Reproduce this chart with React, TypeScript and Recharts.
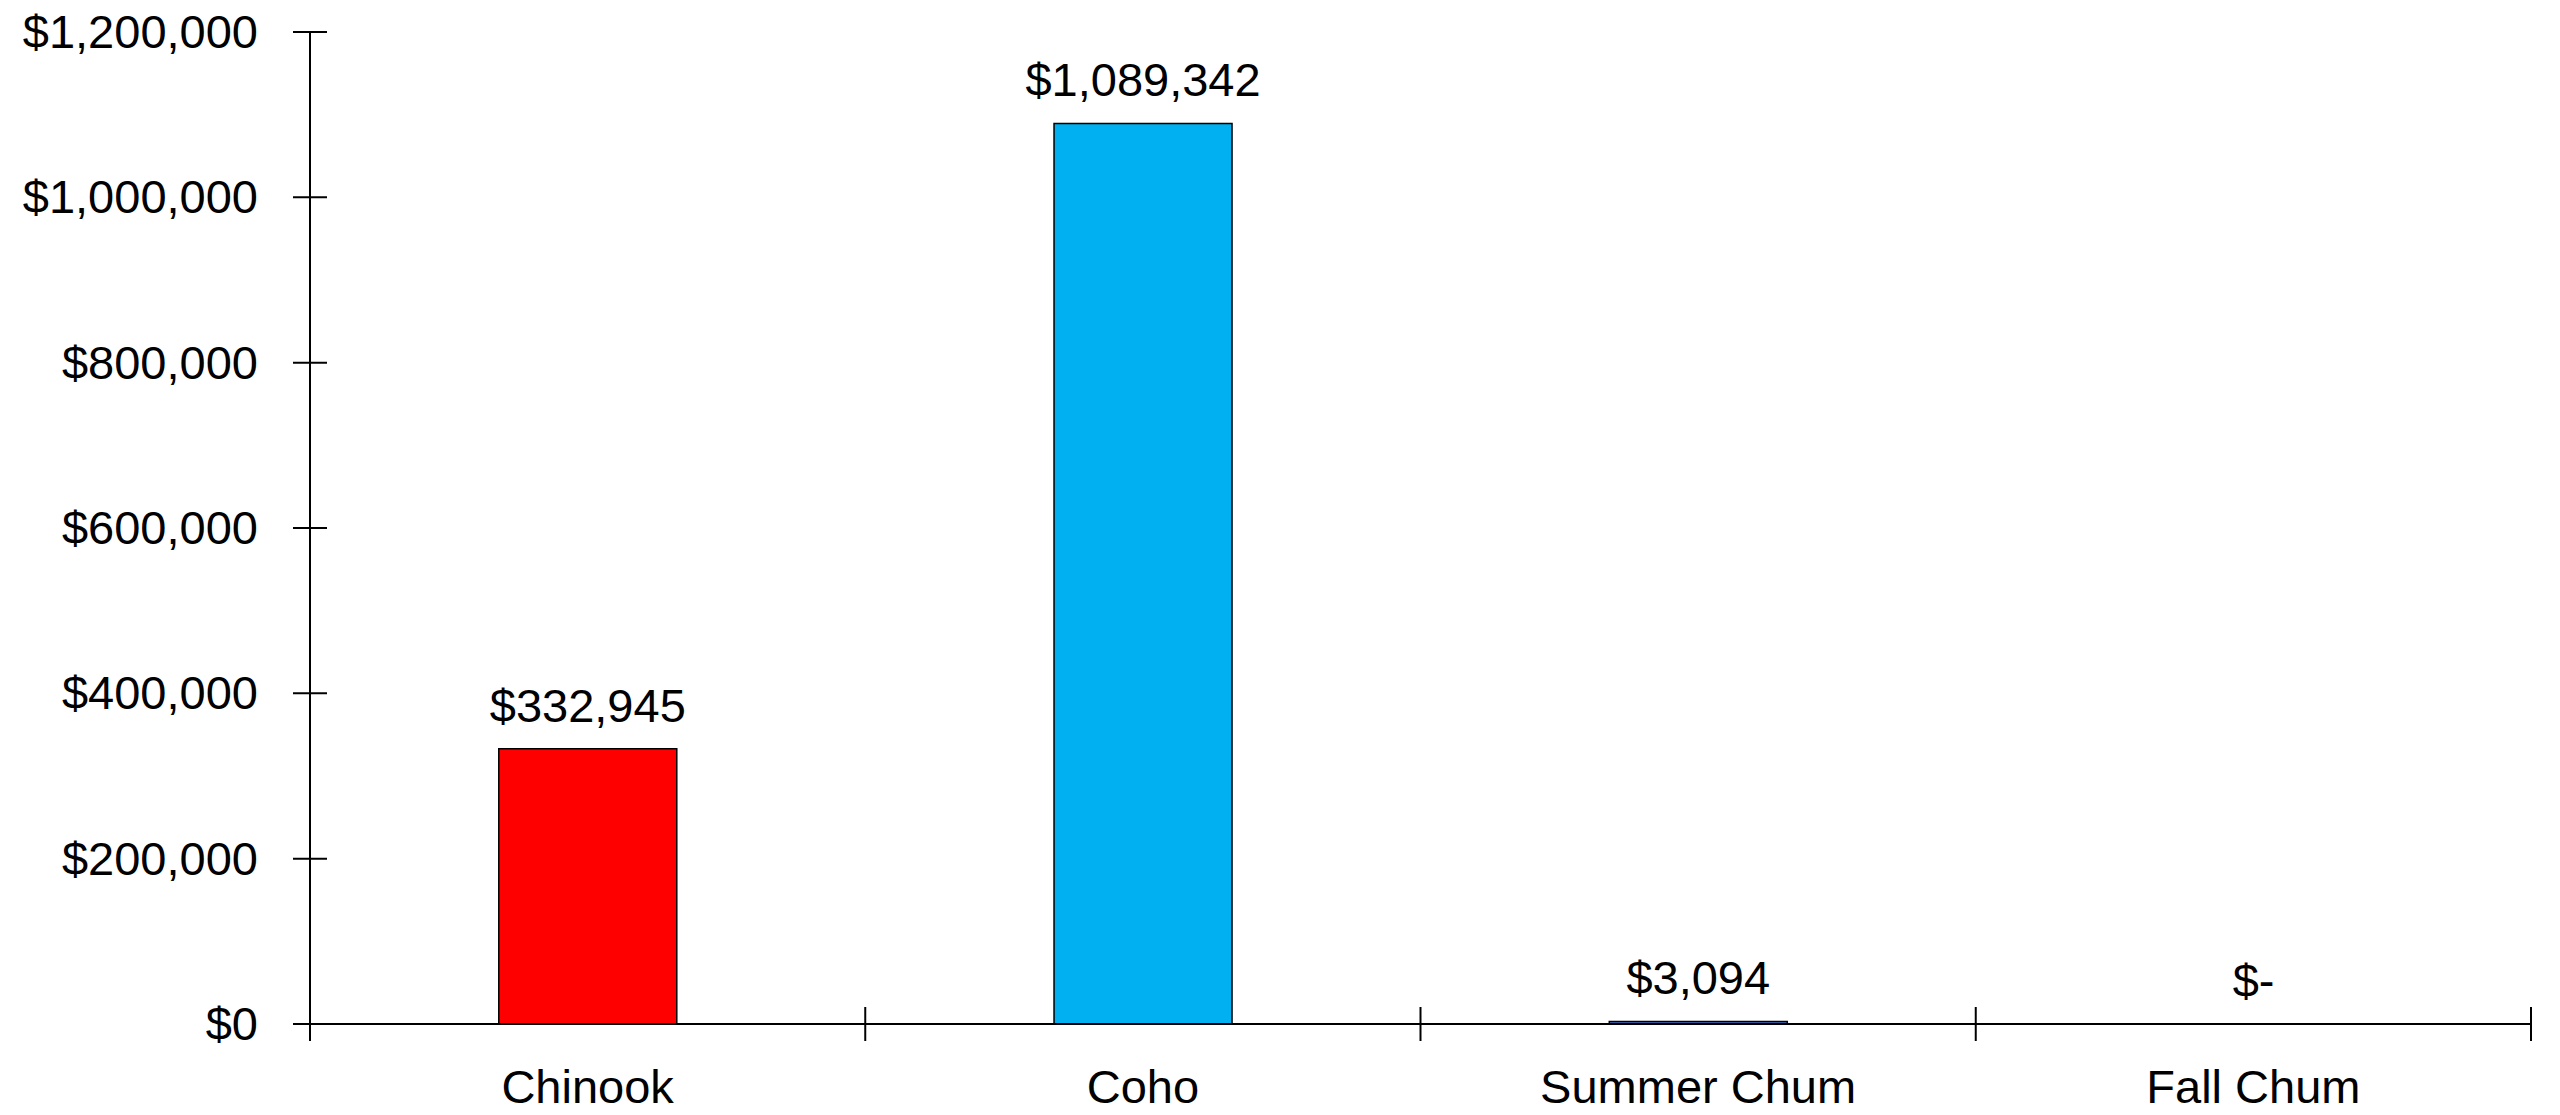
import React from 'react';
import { BarChart, Bar, XAxis, YAxis, Cell, LabelList } from 'recharts';

const species = ['Chinook', 'Coho', 'Summer Chum', 'Fall Chum'];
const revenue = [332945, 1089342, 3094, 0];
const barColors = ['#FF0000', '#00B0F0', '#4472C4', '#A5A5A5'];
const yTicks = [0, 200000, 400000, 600000, 800000, 1000000, 1200000];

const data = species.map((name, i) => ({ name, value: revenue[i] }));

const FONT = "'Liberation Sans', Arial, sans-serif";
const FONT_SIZE = 47;
const TICK_HALF = 17;

const money = (v: number) => (v === 0 ? '$0' : '$' + v.toLocaleString('en-US'));
const labelMoney = (v: number) => (v === 0 ? '$-' : '$' + v.toLocaleString('en-US'));

const YTick = (props: any) => {
  const { x, y, payload } = props;
  return (
    <g>
      <line x1={x - TICK_HALF} x2={x + TICK_HALF} y1={y} y2={y} stroke="#000" strokeWidth={2} />
      <text x={x - 52} y={y + 16} textAnchor="end" fontFamily={FONT} fontSize={FONT_SIZE} fill="#000">
        {money(payload.value)}
      </text>
    </g>
  );
};

const XTick = (props: any) => {
  const { x, y, payload, index } = props;
  const half = payload.offset || 0;
  return (
    <g>
      {index === 0 && (
        <line x1={x - half} x2={x - half} y1={y - TICK_HALF} y2={y + TICK_HALF} stroke="#000" strokeWidth={2} />
      )}
      <line x1={x + half} x2={x + half} y1={y - TICK_HALF} y2={y + TICK_HALF} stroke="#000" strokeWidth={2} />
      <text x={x} y={y + 79} textAnchor="middle" fontFamily={FONT} fontSize={FONT_SIZE} fill="#000">
        {payload.value}
      </text>
    </g>
  );
};

export default function App() {
  return (
    <div style={{ position: 'absolute', left: 0, top: 0, width: 2560, height: 1115, background: '#fff' }}>
      <BarChart
        width={2560}
        height={1115}
        data={data}
        margin={{ top: 32, right: 29, bottom: 0, left: 0 }}
        barCategoryGap="34%"
      >
        <XAxis
          dataKey="name"
          height={91}
          tickSize={0}
          tickMargin={0}
          tickLine={false}
          axisLine={{ stroke: '#000', strokeWidth: 2 }}
          tick={<XTick />}
          interval={0}
        />
        <YAxis
          width={310}
          domain={[0, 1200000]}
          ticks={yTicks}
          tickSize={0}
          tickMargin={0}
          tickLine={false}
          axisLine={{ stroke: '#000', strokeWidth: 2 }}
          tick={<YTick />}
          interval={0}
        />
        <Bar dataKey="value" stroke="#000" strokeWidth={1.5} minPointSize={0.01} isAnimationActive={false}>
          {data.map((d, i) => (
            <Cell
              key={d.name}
              fill={d.value === 0 ? 'none' : barColors[i]}
              stroke={d.value === 0 ? 'none' : '#000'}
            />
          ))}
          <LabelList
            dataKey="value"
            position="top"
            offset={27}
            formatter={(v: any) => labelMoney(Number(v))}
            style={{ fontFamily: FONT, fontSize: FONT_SIZE, fill: '#000' }}
          />
        </Bar>
      </BarChart>
    </div>
  );
}
